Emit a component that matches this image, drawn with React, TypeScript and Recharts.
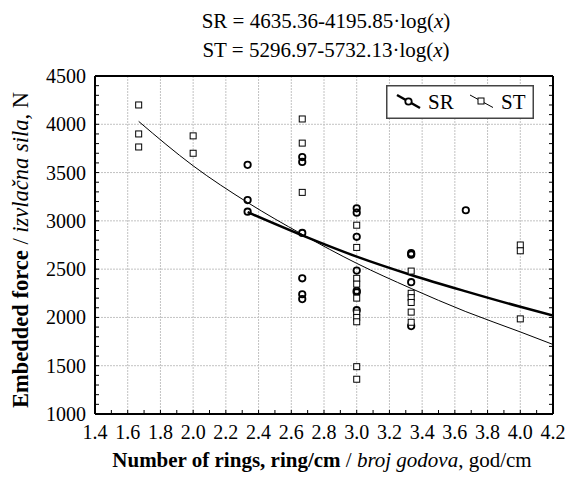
import React from 'react';
import {
  ComposedChart,
  Scatter,
  Line,
  XAxis,
  YAxis,
  CartesianGrid,
  Legend
} from 'recharts';

// rings per cm, one column of measurements per value
const ringLevels = [1.667, 2.0, 2.333, 2.667, 3.0, 3.333, 3.667, 4.0];

// SR: measured embedded force (N) for each ring level
const srForce: number[][] = [
  [],
  [],
  [3580, 3215, 3095],
  [3660, 3610, 2875, 2405, 2240, 2190],
  [3130, 3085, 2835, 2485, 2275, 2260, 2075],
  [2665, 2650, 2365, 1910],
  [3110],
  []
];

// ST: measured embedded force (N) for each ring level
const stForce: number[][] = [
  [4200, 3900, 3765],
  [3880, 3700],
  [],
  [4055, 3805, 3295],
  [2955, 2725, 2405, 2345, 2200, 2045, 2000, 1955, 1490, 1360],
  [2480, 2250, 2205, 2155, 2055, 1950],
  [],
  [2750, 2690, 1985]
];

// fitted curves
const srFitX = [2.333, 2.667, 3.0, 3.333, 3.667, 4.0, 4.2];
const srFitY = [3090, 2850, 2630, 2440, 2270, 2110, 2020];
const stFitX = [1.667, 2.0, 2.333, 2.667, 3.0, 3.333, 3.667, 4.0, 4.2];
const stFitY = [4030, 3570, 3190, 2860, 2560, 2300, 2060, 1850, 1720];

const xTicks = [
  1.4, 1.5, 1.6, 1.7, 1.8, 1.9, 2.0, 2.1, 2.2, 2.3, 2.4, 2.5, 2.6, 2.7, 2.8,
  2.9, 3.0, 3.1, 3.2, 3.3, 3.4, 3.5, 3.6, 3.7, 3.8, 3.9, 4.0, 4.1, 4.2
];
const xGrid = [1.6, 1.8, 2.0, 2.2, 2.4, 2.6, 2.8, 3.0, 3.2, 3.4, 3.6, 3.8, 4.0];
const yTicks = Array.from({ length: 36 }, (_, i) => 1000 + i * 100);
const yGrid = [1500, 2000, 2500, 3000, 3500, 4000];

const srPoints = ringLevels.flatMap((x, i) => srForce[i].map(y => ({ x, y })));
const stPoints = ringLevels.flatMap((x, i) => stForce[i].map(y => ({ x, y })));
const srFit = srFitX.map((x, i) => ({ x, y: srFitY[i] }));
const stFit = stFitX.map((x, i) => ({ x, y: stFitY[i] }));

const FONT = '"Liberation Serif", "Times New Roman", serif';

const CircleDot = (props: any) => (
  <circle cx={props.cx} cy={props.cy} r={3.2} fill="none" stroke="#000" strokeWidth={1.8} />
);

const SquareDot = (props: any) => (
  <rect x={props.cx - 3} y={props.cy - 3} width={6} height={6} fill="#fff" stroke="#000" strokeWidth={1} />
);

const BottomTick = ({ x, y, payload }: any) => {
  const major = Math.round(payload.value * 10) % 2 === 0;
  return (
    <g>
      <line x1={x} y1={y} x2={x} y2={y - 4} stroke="#000" />
      {major && (
        <text x={x} y={y + 18} textAnchor="middle" dominantBaseline="central"
          fontFamily={FONT} fontSize={20} fill="#000">
          {payload.value.toFixed(1)}
        </text>
      )}
    </g>
  );
};

const TopTick = ({ x, y }: any) => (
  <line x1={x} y1={y} x2={x} y2={y + 4} stroke="#000" />
);

const LeftTick = ({ x, y, payload }: any) => {
  const major = payload.value % 500 === 0;
  return (
    <g>
      <line x1={x} y1={y} x2={x + 4} y2={y} stroke="#000" />
      {major && (
        <text x={x - 9} y={y} textAnchor="end" dominantBaseline="central"
          fontFamily={FONT} fontSize={20} fill="#000">
          {payload.value}
        </text>
      )}
    </g>
  );
};

const RightTick = ({ x, y }: any) => (
  <line x1={x} y1={y} x2={x - 4} y2={y} stroke="#000" />
);

const TitleBlock = () => (
  <g fontFamily={FONT} fontSize={21} fill="#000">
    <text x={326} y={28} textAnchor="middle">
      SR = 4635.36-4195.85·log(<tspan fontStyle="italic">x</tspan>)
    </text>
    <text x={326} y={57} textAnchor="middle">
      ST = 5296.97-5732.13·log(<tspan fontStyle="italic">x</tspan>)
    </text>
  </g>
);

const XTitle = () => (
  <text x={322} y={467} textAnchor="middle" fontFamily={FONT} fontSize={21} fill="#000">
    <tspan fontWeight="bold">Number of rings, ring/cm</tspan>
    <tspan> / </tspan>
    <tspan fontStyle="italic">broj godova</tspan>
    <tspan>, god/cm</tspan>
  </text>
);

const YTitle = () => (
  <text x={0} y={0} transform="translate(28,250) rotate(-90)" textAnchor="middle"
    fontFamily={FONT} fontSize={22.5} fill="#000">
    <tspan fontWeight="bold">Embedded force</tspan>
    <tspan> / </tspan>
    <tspan fontStyle="italic">izvlačna sila</tspan>
    <tspan>, N</tspan>
  </text>
);

const LegendBox = () => (
  <svg width={148} height={34} style={{ display: 'block' }}>
    <rect x={0.75} y={0.75} width={146.5} height={32.5} fill="#fff" stroke="#444" strokeWidth={1.5} />
    <line x1={11} y1={10} x2={34} y2={23} stroke="#000" strokeWidth={2.5} />
    <circle cx={22.5} cy={16.5} r={3.2} fill="#fff" stroke="#000" strokeWidth={1.8} />
    <text x={42} y={24} fontFamily={FONT} fontSize={21} fill="#000">SR</text>
    <line x1={84} y1={10} x2={107} y2={22.5} stroke="#000" strokeWidth={1} />
    <rect x={92} y={13} width={6} height={6} fill="#fff" stroke="#000" strokeWidth={1} />
    <text x={115} y={24} fontFamily={FONT} fontSize={21} fill="#000">ST</text>
  </svg>
);

export default function App() {
  return (
    <div style={{ position: 'absolute', left: 0, top: 0, background: '#fff' }}>
      <ComposedChart width={571} height={477} margin={{ top: 0, right: 0, bottom: 0, left: 0 }}>
        <CartesianGrid verticalValues={xGrid} horizontalValues={yGrid}
          stroke="#c2c2c2" strokeDasharray="2 1" />
        <XAxis dataKey="x" type="number" domain={[1.4, 4.2]} ticks={xTicks} interval={0}
          allowDataOverflow height={63} tickSize={0} tickMargin={0} tickLine={false}
          tick={<BottomTick />} axisLine={{ stroke: '#000', strokeWidth: 2 }}
          label={{ content: () => <XTitle /> }} />
        <XAxis xAxisId="top" orientation="top" type="number" domain={[1.4, 4.2]} ticks={xTicks}
          interval={0} allowDataOverflow height={76} tickSize={0} tickMargin={0} tickLine={false}
          tick={<TopTick />} axisLine={{ stroke: '#000', strokeWidth: 2 }}
          label={{ content: () => <TitleBlock /> }} />
        <YAxis dataKey="y" type="number" domain={[1000, 4500]} ticks={yTicks} interval={0}
          allowDataOverflow width={95} tickSize={0} tickMargin={0} tickLine={false}
          tick={<LeftTick />} axisLine={{ stroke: '#000', strokeWidth: 2 }}
          label={{ content: () => <YTitle /> }} />
        <YAxis yAxisId="right" orientation="right" type="number" domain={[1000, 4500]} ticks={yTicks}
          interval={0} allowDataOverflow width={18} tickSize={0} tickMargin={0} tickLine={false}
          tick={<RightTick />} axisLine={{ stroke: '#000', strokeWidth: 2 }} />
        <Legend layout="vertical" align="center" verticalAlign="middle"
          content={() => <LegendBox />}
          wrapperStyle={{ left: 386, top: 85, width: 148, height: 34 }} />
        <Scatter name="SR" data={srPoints} shape={<CircleDot />} isAnimationActive={false} />
        <Scatter name="ST" data={stPoints} shape={<SquareDot />} isAnimationActive={false} />
        <Line name="SR fit" data={srFit} dataKey="y" type="monotone" stroke="#000" strokeWidth={2.5}
          dot={false} activeDot={false} isAnimationActive={false} legendType="none" />
        <Line name="ST fit" data={stFit} dataKey="y" type="monotone" stroke="#000" strokeWidth={1}
          dot={false} activeDot={false} isAnimationActive={false} legendType="none" />
      </ComposedChart>
    </div>
  );
}
